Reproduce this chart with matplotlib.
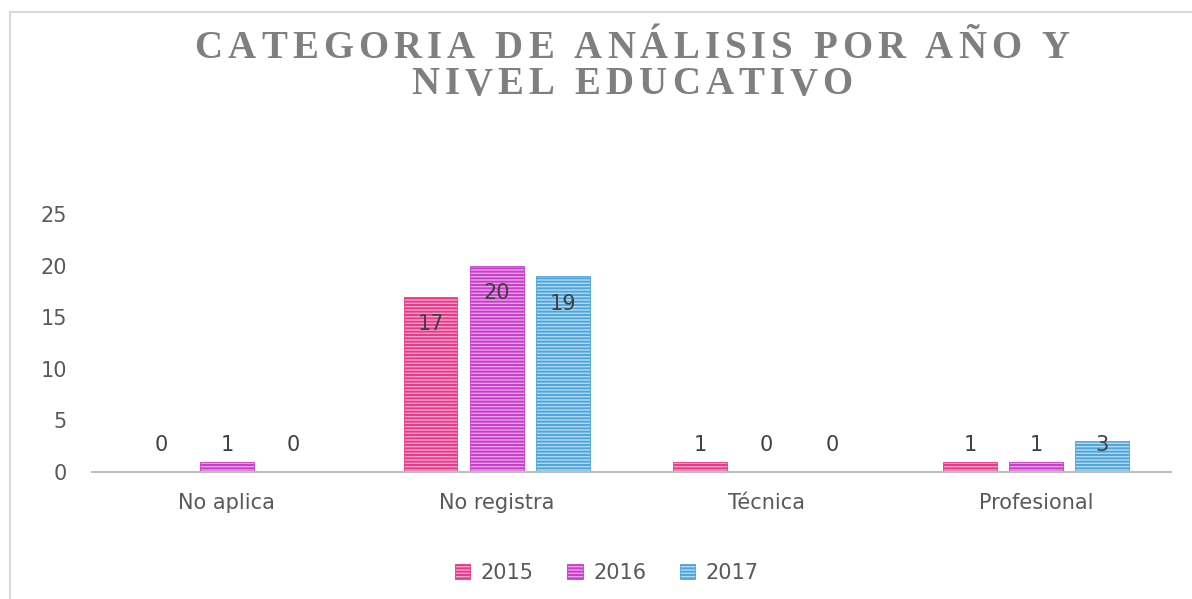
import matplotlib
matplotlib.use("Agg")
import matplotlib.pyplot as plt
from matplotlib.lines import Line2D
import numpy as np

categories = ["No aplica", "No registra", "Técnica", "Profesional"]
years = ["2015", "2016", "2017"]
v2015 = [0, 17, 1, 1]
v2016 = [1, 20, 0, 1]
v2017 = [0, 19, 0, 3]
series = [v2015, v2016, v2017]

main_colors = ["#e8388a", "#c93ccb", "#4ea5dc"]
face_colors = ["#f7a6cb", "#e8a3ea", "#b5dbf3"]

title_lines = ["CATEGORIA DE ANÁLISIS POR AÑO Y", "NIVEL EDUCATIVO"]

plt.rcParams['hatch.linewidth'] = 1.4
sans = ["DejaVu Sans"]
fs = 15

fig = plt.figure(figsize=(11.92, 5.99), dpi=100)
ax = fig.add_axes([0.0772, 0.212, 0.905, 0.4307])

x = np.arange(len(categories))
step = 0.245
width = 0.2
for i, (vals, mc, fc) in enumerate(zip(series, main_colors, face_colors)):
    pos = x + (i - 1) * step
    ax.bar(pos, vals, width, color=fc, edgecolor=mc, hatch="-----", linewidth=0.6,
           label=years[i], zorder=2)
    for px, v in zip(pos, vals):
        ly = max(v - 2.7, 2.6)
        ax.text(px, ly, str(v), ha="center", va="center", fontsize=fs,
                color="#404040", family=sans, zorder=3)

ax.set_xlim(-0.5, 3.5)
ax.set_ylim(0, 25)
ax.set_yticks([0, 5, 10, 15, 20, 25])
ax.set_xticks(x)
ax.set_xticklabels(categories)
for sp in ["top", "right", "left"]:
    ax.spines[sp].set_visible(False)
ax.spines["bottom"].set_color("#bfbfbf")
ax.spines["bottom"].set_linewidth(1.5)
ax.tick_params(axis="both", length=0, labelsize=fs, labelcolor="#595959")
ax.tick_params(axis="y", pad=18)
ax.tick_params(axis="x", pad=15)
for lab in ax.get_xticklabels() + ax.get_yticklabels():
    lab.set_family(sans)

leg = ax.legend(loc="center", bbox_to_anchor=(0.477, -0.39), ncol=3, frameon=False,
                prop={"family": sans, "size": fs}, handlelength=0.75, handleheight=0.75,
                handletextpad=0.5, columnspacing=1.6)
for t in leg.get_texts():
    t.set_color("#595959")

# chart frame (left and top edges visible)
fig.add_artist(Line2D([10/1192, 10/1192], [0, 1 - 12/599], transform=fig.transFigure,
                      color="#d9d9d9", linewidth=1.5))
fig.add_artist(Line2D([10/1192, 1], [1 - 12/599, 1 - 12/599], transform=fig.transFigure,
                      color="#d9d9d9", linewidth=1.5))

# letter-spaced title
renderer = fig.canvas.get_renderer()
tfont = dict(family=["Liberation Serif", "DejaVu Serif"], weight="bold", fontsize=28,
             color="#7f7f7f")

def char_widths(s):
    ws = []
    for ch in s:
        t = fig.text(0, 0, ch if ch != " " else "\u00a0", **tfont)
        ws.append(t.get_window_extent(renderer).width)
        t.remove()
    return ws

W = fig.bbox.width
H = fig.bbox.height
w1 = char_widths(title_lines[0])
spacing = (875 - sum(w1)) / (len(title_lines[0]) - 1)

def draw_line(s, ws, cx_px, cy_px):
    total = sum(ws) + spacing * (len(s) - 1)
    xpos = cx_px - total / 2
    for ch, w in zip(s, ws):
        if ch != " ":
            fig.text((xpos + w / 2) / W, 1 - cy_px / H, ch, ha="center", va="center", **tfont)
        xpos += w + spacing

draw_line(title_lines[0], w1, 632, 49)
draw_line(title_lines[1], char_widths(title_lines[1]), 632, 85)

fig.savefig("out.png", dpi=100)
